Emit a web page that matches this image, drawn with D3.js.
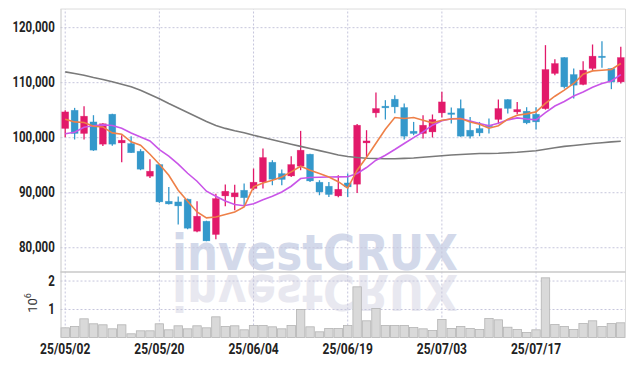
<!DOCTYPE html>
<html>
<head>
<meta charset="utf-8">
<script src="https://cdn.jsdelivr.net/npm/d3@7"></script>
<style>
body { margin: 0; background: #fff; }
</style>
</head>
<body>
<div id="chart"></div>
<script>
// trading days (yy/mm/dd)
var dates = ["25/05/02","25/05/07","25/05/08","25/05/09","25/05/12","25/05/13","25/05/14","25/05/15","25/05/16","25/05/19",
	"25/05/20","25/05/21","25/05/22","25/05/23","25/05/26","25/05/27","25/05/28","25/05/29","25/05/30","25/06/02",
	"25/06/04","25/06/05","25/06/09","25/06/10","25/06/11","25/06/12","25/06/13","25/06/16","25/06/17","25/06/18",
	"25/06/19","25/06/20","25/06/23","25/06/24","25/06/25","25/06/26","25/06/27","25/06/30","25/07/01","25/07/02",
	"25/07/03","25/07/04","25/07/07","25/07/08","25/07/09","25/07/10","25/07/11","25/07/14","25/07/15","25/07/16",
	"25/07/17","25/07/18","25/07/21","25/07/22","25/07/23","25/07/24","25/07/25","25/07/28","25/07/29","25/07/30"];

var open = [101580,104900,100670,102780,98730,104180,98960,98850,97450,92910,
	95040,88360,88240,88730,82910,84730,82310,89330,89150,90360,
	90670,91870,95450,93400,92960,94730,96910,91820,91090,89330,
	91690,91450,98960,104420,105640,106910,105400,101090,100670,100960,
	104420,104420,105220,101270,101580,102180,103220,106850,104600,104730,
	104180,105180,111580,114490,111400,109580,112490,114730,112490,110050];
var high = [104900,105330,105640,104000,102550,104270,100360,100180,97820,96000,
	95090,90960,89220,88850,88360,84820,89730,91400,91360,91580,
	94310,97950,95820,94130,96550,101150,97000,92180,91870,93090,
	93400,102420,101270,108130,106730,107640,106130,102780,104000,104130,
	108240,105400,106850,103690,102780,103400,106850,106910,106420,105450,
	105450,116730,114180,114550,112490,113820,116850,117450,112550,116420];
var low = [100000,99580,99580,97510,98420,98450,95450,97150,94000,92600,
	88060,87760,84130,83270,82730,81090,81450,87450,86730,87640,
	90360,90670,91270,91270,92780,94000,91870,89450,89150,89090,
	89150,89880,96200,103580,103220,104360,99580,100360,99760,99950,
	103580,102490,100090,99760,100180,100670,102490,104310,104180,102360,
	101400,105000,111270,108850,107040,109450,112180,112600,108730,109760];
var close = [104600,100670,103820,97640,102450,98730,99450,97180,94180,93820,
	88240,87870,87510,83450,85640,81150,88850,90180,89880,89000,
	91820,96310,92360,92310,95040,97640,92050,90050,89580,90540,
	90960,102180,99330,105220,105330,105510,100180,100670,102180,103220,
	106420,104130,100180,100180,100780,101910,105220,105220,105040,102600,
	102780,112310,113400,109150,109450,112180,114730,114550,110050,114490];

var volume = [340000,386000,656000,481000,446000,305000,446000,130000,235000,235000,
	481000,270000,411000,305000,411000,340000,726000,386000,411000,270000,
	421000,421000,375000,305000,421000,982000,375000,200000,316000,316000,
	421000,1779000,586000,1018000,421000,421000,421000,351000,305000,246000,
	632000,316000,386000,316000,281000,667000,621000,361000,281000,175000,
	270000,2095000,456000,386000,281000,491000,586000,386000,491000,516000];

// moving averages as drawn
var ma5 = [103270,102780,102670,102000,101870,100780,100550,99150,98550,96910,
	95090,93090,90360,88360,86420,85330,85510,85950,86420,87330,
	90960,91690,92180,92780,93690,94730,94000,93400,92780,91910,
	90730,94000,96360,98910,101450,103580,103400,103580,103090,102600,
	103090,103310,103400,102780,102360,101640,102090,103270,104000,104240,
	104600,106130,107450,108550,109760,111450,112050,112180,112310,113400];
var ma20 = [100640,100910,101820,102090,102240,102130,101640,100760,100050,99310,
	97730,96550,95090,93450,92000,90180,89270,88400,87780,87550,
	87910,88640,89270,90050,91090,92490,92670,92730,92760,92780,
	92820,93400,94490,95820,96730,97760,98850,99910,100960,102180,
	103000,103360,103400,102950,102490,102090,102550,103150,103510,103310,
	103150,104450,105670,106490,107490,108220,109090,109760,110220,111360];
var ma120 = [111870,111580,111270,110850,110490,110090,109640,109150,108550,107760,
	107000,106130,105310,104490,103670,102850,102130,101600,101180,100820,
	100360,99960,99550,99130,98730,98330,97950,97560,97160,96760,
	96490,96310,96180,96130,96090,96090,96150,96220,96360,96490,
	96640,96760,96850,96960,97040,97050,97090,97180,97270,97400,
	97550,97820,98090,98330,98490,98670,98850,99000,99150,99270];

var priceTicks = [80000, 90000, 100000, 110000, 120000];
var volTicks = [1000000, 2000000];
var dateTicks = ["25/05/02","25/05/20","25/06/04","25/06/19","25/07/03","25/07/17"];

var margin = {left: 60.5, right: 625.5, top: 9, split: 272, bottom: 337.5};
var plotW = margin.right - margin.left;

var upColor = "#e2196a", downColor = "#3498cb";

var svg = d3.select("#chart")
	.append("svg")
		.attr("width", 634)
		.attr("height", 366)
		.style("display", "block");

// scales
var x = d3.scaleBand()
	.domain(dates)
	.range([margin.left, margin.right])
	.padding(0);
var step = x.step();
var cx = function(d) { return x(d) + step / 2; };

var y = d3.scaleLinear()
	.domain([75500, 123300])
	.range([margin.split, margin.top]);
var yv = d3.scaleLinear()
	.domain([0, 2300000])
	.range([margin.bottom, margin.split]);

// watermark + reflection
var wm = svg.append("g")
	.attr("font-family", "DejaVu Sans, sans-serif")
	.attr("font-weight", "bold")
	.attr("font-size", 50)
	.attr("text-anchor", "middle");
wm.append("text")
	.attr("x", 315).attr("y", 270)
	.attr("textLength", 286)
	.attr("lengthAdjust", "spacingAndGlyphs")
	.attr("fill", "#d3d9ea")
	.text("investCRUX");
wm.append("text")
	.attr("x", 315).attr("y", 270)
	.attr("transform", "translate(0,545) scale(1,-1)")
	.attr("textLength", 286)
	.attr("lengthAdjust", "spacingAndGlyphs")
	.attr("fill", "#e8e8f0")
	.text("investCRUX");

// grid + axes
function styleGrid(g) {
	g.select(".domain").remove();
	g.selectAll(".tick line")
		.attr("stroke", "#c6c6dc")
		.attr("stroke-dasharray", "2,2");
	g.selectAll(".tick text")
		.attr("fill", "#222")
		.attr("font-family", "Roboto, sans-serif")
		.attr("font-weight", 700);
}

var gy = svg.append("g")
	.attr("transform", "translate(" + margin.left + ",0)")
	.call(d3.axisLeft(y).tickValues(priceTicks).tickFormat(d3.format(",")).tickSize(-plotW).tickPadding(7));
styleGrid(gy);
gy.selectAll(".tick text").attr("font-size", 14).attr("transform", "scale(0.82,1)");

var gv = svg.append("g")
	.attr("transform", "translate(" + margin.left + ",0)")
	.call(d3.axisLeft(yv).tickValues(volTicks).tickFormat(function(d) { return d / 1e6; }).tickSize(-plotW).tickPadding(7));
styleGrid(gv);
gv.selectAll(".tick text").attr("font-size", 14).attr("transform", "scale(0.82,1)");

var gx = svg.append("g")
	.attr("transform", "translate(0," + margin.bottom + ")")
	.call(d3.axisBottom(x).tickValues(dateTicks).tickSize(-(margin.bottom - margin.top)).tickPadding(6));
styleGrid(gx);
gx.selectAll(".tick text").attr("font-size", 15).attr("transform", "scale(0.8,1)");

// 10^6 unit label
var unit = svg.append("text")
	.attr("transform", "translate(37,303) rotate(-90)")
	.attr("text-anchor", "middle")
	.attr("font-family", "Roboto, sans-serif")
	.attr("font-size", 13)
	.attr("fill", "#333");
unit.append("tspan").text("10");
unit.append("tspan").attr("font-size", 9).attr("dy", -6).text("6");

// volume bars
svg.append("g")
	.selectAll("rect")
	.data(dates)
	.enter().append("rect")
		.attr("x", function(d) { return x(d) + 0.5; })
		.attr("y", function(d, i) { return yv(volume[i]); })
		.attr("width", step - 1)
		.attr("height", function(d, i) { return yv(0) - yv(volume[i]); })
		.attr("fill", "#d9d9d9")
		.attr("stroke", "#b4b4b4")
		.attr("stroke-width", 0.8);

// frame
var frame = svg.append("g").attr("fill", "none");
frame.append("line").attr("x1", margin.left + 0.5).attr("x2", margin.left + 0.5).attr("y1", margin.top).attr("y2", margin.bottom).attr("stroke", "#c8c8c8");
frame.append("line").attr("x1", margin.left).attr("x2", margin.right).attr("y1", margin.top).attr("y2", margin.top).attr("stroke", "#dcdcdc");
frame.append("line").attr("x1", margin.right).attr("x2", margin.right).attr("y1", margin.top).attr("y2", margin.bottom).attr("stroke", "#dcdcdc");
frame.append("line").attr("x1", margin.left).attr("x2", margin.right).attr("y1", margin.split).attr("y2", margin.split).attr("stroke", "#c8c8c8").attr("stroke-width", 1.5);

// candles
var candle = svg.append("g")
	.selectAll("g")
	.data(dates)
	.enter().append("g")
		.attr("fill", function(d, i) { return close[i] >= open[i] ? upColor : downColor; })
		.attr("stroke", function(d, i) { return close[i] >= open[i] ? upColor : downColor; });
candle.append("line")
	.attr("x1", cx).attr("x2", cx)
	.attr("y1", function(d, i) { return y(high[i]); })
	.attr("y2", function(d, i) { return y(low[i]); })
	.attr("stroke-width", 1.3);
candle.append("rect")
	.attr("x", function(d) { return cx(d) - 3.5; })
	.attr("width", 7)
	.attr("y", function(d, i) { return y(Math.max(open[i], close[i])); })
	.attr("height", function(d, i) { return Math.max(1.5, Math.abs(y(open[i]) - y(close[i]))); })
	.attr("stroke-width", 0.6)
	.attr("stroke-opacity", 0.4);

// moving average lines
function maLine(values, color) {
	svg.append("path")
		.datum(dates)
		.attr("fill", "none")
		.attr("stroke", color)
		.attr("stroke-width", 1.6)
		.attr("d", d3.line()
			.x(cx)
			.y(function(d, i) { return y(values[i]); }));
}
maLine(ma120, "#7a7a7a");
maLine(ma20, "#c955e8");
maLine(ma5, "#ee8048");
</script>
</body>
</html>
